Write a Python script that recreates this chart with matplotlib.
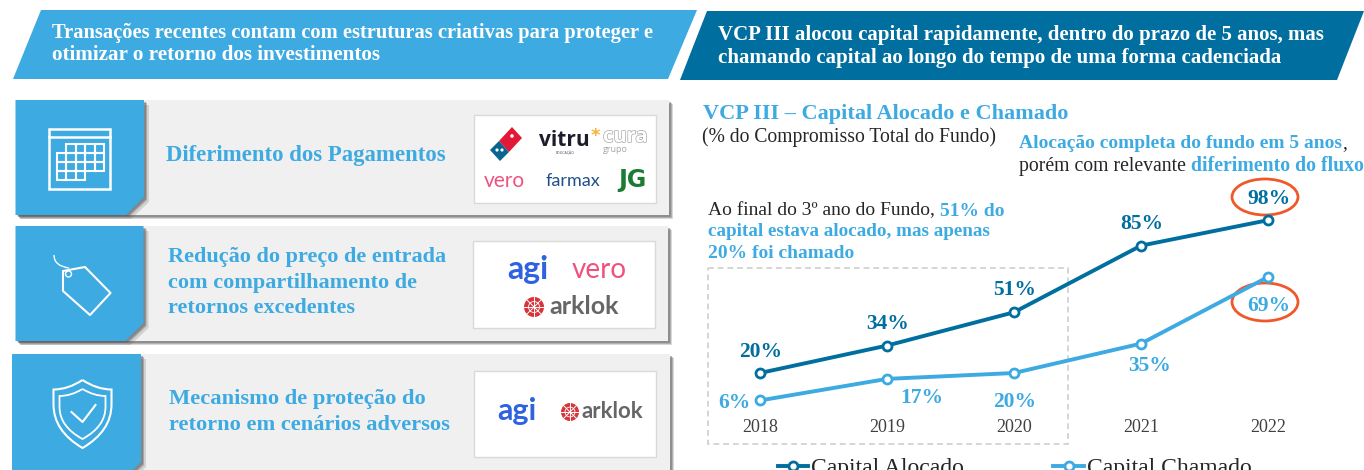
import matplotlib
matplotlib.use('Agg')
import matplotlib.pyplot as plt
import matplotlib.patheffects as pe
from matplotlib.patches import Polygon, Rectangle, Ellipse, Circle, PathPatch
from matplotlib.path import Path
import numpy as np

# %% Data
anos = ['2018', '2019', '2020', '2021', '2022']
capital_alocado = [20, 34, 51, 85, 98]
capital_chamado = [6, 17, 20, 35, 69]
nome_alocado = 'Capital Alocado'
nome_chamado = 'Capital Chamado'

# label offsets in pixels from their point
offs_alocado = [(1, 21), (1, 22), (1, 22), (1, 22), (1, 21)]
offs_chamado = [(-26, -3), (35, -19), (1, -29), (9, -22), (1, -29)]

AZUL = '#3DAAE2'
ESCURO = '#006E9E'
CINZA = '#F0F0F0'
LARANJA = '#F0582A'
PRETO = '#262626'
SERIF = 'Liberation Serif'

plt.rcParams['font.family'] = SERIF

W, H = 1364, 470
fig = plt.figure(figsize=(W / 100, H / 100), dpi=100)

# background axes in pixel coordinates for the panels
bg = fig.add_axes([0, 0, 1, 1])
bg.set_xlim(0, W)
bg.set_ylim(H, 0)
bg.axis('off')


def txt(x, y, s, size, color=PRETO, weight='normal', **kw):
    # va center sits about 2 px high against the reference
    return bg.text(x, y + 2, s, fontsize=size, color=color, fontweight=weight, va='center', **kw)


def rich(x, y, parts, size):
    # several colours on one line
    r = fig.canvas.get_renderer()
    for s, c, w in parts:
        t = txt(x, y, s, size, c, w)
        x = t.get_window_extent(r).x1


def flor(cx, cy, raio):
    bg.add_patch(Circle((cx, cy), raio, fc='#D8343B', ec='none'))
    for a in np.arange(0, np.pi, np.pi / 4):
        bg.plot([cx - raio * np.cos(a), cx + raio * np.cos(a)], [cy - raio * np.sin(a), cy + raio * np.sin(a)],
                color='white', lw=0.7)
    bg.add_patch(Circle((cx, cy), raio * 0.55, fc='none', ec='white', lw=0.6))


# %% Headers
bg.add_patch(Polygon([(41, 10), (697, 10), (668, 79), (13, 79)], fc=AZUL, ec='none'))
bg.add_patch(Polygon([(707, 11), (1364, 11), (1337, 80), (680, 80)], fc=ESCURO, ec='none'))
txt(52, 31, 'Transações recentes contam com estruturas criativas para proteger e', 14.8, 'white', 'bold')
txt(52, 53, 'otimizar o retorno dos investimentos', 15.2, 'white', 'bold')
txt(718, 33, 'VCP III alocou capital rapidamente, dentro do prazo de 5 anos, mas', 15, 'white', 'bold')
txt(718, 56, 'chamando capital ao longo do tempo de uma forma cadenciada', 15.1, 'white', 'bold')

# %% Left panels
paineis = [(15.5, 669, 100, 215, 144), (15.5, 668, 226, 341, 143.5), (12, 670, 354, 480, 141)]
for x0, x1, y0, y1, xb in paineis:
    for d, a in [(4, 0.25), (3, 0.35), (2, 0.45)]:
        bg.add_patch(Rectangle((x0 + d, y0 + d), x1 - x0, y1 - y0, fc='#666666', ec='none', alpha=a))
    bg.add_patch(Rectangle((x0, y0), x1 - x0, y1 - y0, fc=CINZA, ec='none'))
    for d, a in [(5, 0.2), (3, 0.35), (2, 0.4)]:
        bg.add_patch(Polygon([(x0 + d, y0 + d), (xb + d, y0 + d), (xb + d, y1 - 18 + d), (xb - 18 + d, y1 + d - 1),
                              (x0 + d, y1 + d - 1)], fc='#555555', ec='none', alpha=a))
    bg.add_patch(Polygon([(x0, y0), (xb, y0), (xb, y1 - 18), (xb - 18, y1), (x0, y1)], fc=AZUL, ec='none'))

for x0, y0, x1, y1 in [(474, 115, 656, 203), (473, 241, 655, 328), (474, 371, 656, 457)]:
    bg.add_patch(Rectangle((x0, y0), x1 - x0, y1 - y0, fc='white', ec='#d9d9d9', lw=1))

txt(166, 154, 'Diferimento dos Pagamentos', 16.4, AZUL, 'bold')
txt(168, 255, 'Redução do preço de entrada', 16, AZUL, 'bold')
txt(168, 281, 'com compartilhamento de', 16, AZUL, 'bold')
txt(168, 306, 'retornos excedentes', 16, AZUL, 'bold')
txt(169, 397, 'Mecanismo de proteção do', 16.2, AZUL, 'bold')
txt(169, 423, 'retorno em cenários adversos', 16.1, AZUL, 'bold')

# %% Icons
# calendar
bg.add_patch(Rectangle((49, 129), 61, 60, fc='none', ec='white', lw=1.8))
bg.plot([49, 110], [137, 137], color='white', lw=1.8)
for row, (a, b) in enumerate([(1, 5), (0, 5), (0, 5), (0, 3)]):
    for col in range(a, b):
        bg.add_patch(Rectangle((56.5 + col * 9.5, 144 + row * 9), 9.5, 9, fc='none', ec='white', lw=1.5))

# tag
bg.add_patch(Polygon([(63, 271), (85, 267), (110.5, 293), (90, 315), (63, 291)], fc='none', ec='white', lw=1.5,
                     joinstyle='round'))
bg.add_patch(Circle((68.5, 274), 3, fc='none', ec='white', lw=1))
bg.add_patch(PathPatch(Path([(54, 255), (54, 266), (69, 268)], [Path.MOVETO, Path.CURVE3, Path.CURVE3]),
                       fc='none', ec='white', lw=1))


# shield
def escudo(cx, top, w, h, lw):
    v = [(cx, top), (cx + w * 0.5, top + h * 0.14), (cx + w, top + h * 0.14), (cx + w, top + h * 0.36),
         (cx + w, top + h * 0.75), (cx, top + h), (cx - w, top + h * 0.75), (cx - w, top + h * 0.36),
         (cx - w, top + h * 0.14), (cx - w * 0.5, top + h * 0.14), (cx, top)]
    c = [Path.MOVETO, Path.CURVE3, Path.CURVE3, Path.LINETO, Path.CURVE3, Path.CURVE3, Path.CURVE3, Path.CURVE3,
         Path.LINETO, Path.CURVE3, Path.CURVE3]
    bg.add_patch(PathPatch(Path(v, c), fc='none', ec='white', lw=lw))


escudo(82.5, 380, 29, 68, 1.5)
escudo(82.5, 389, 23, 50, 1.3)
bg.plot([71.5, 82.5, 95.5], [412, 422, 405], color='white', lw=1.5)

# %% Logos
# dominos
bg.add_patch(Polygon([(512, 127), (522, 138), (509, 152), (499, 141)], fc='#E31837', ec='none'))
bg.add_patch(Polygon([(499, 141), (509, 152), (500, 161), (490, 150)], fc='#0B648F', ec='none'))
bg.add_patch(Circle((512, 136), 1.8, fc='white', ec='none'))
bg.add_patch(Circle((497, 150), 1.6, fc='white', ec='none'))
bg.add_patch(Circle((502, 150), 1.6, fc='white', ec='none'))
txt(539, 139, 'vitru', 15, '#1c1c2b', 'bold', family='Open Sans')
txt(595, 134, '*', 13, '#F5B335', 'bold', ha='center', family='DejaVu Sans')
txt(565, 151, 'EDUCAÇÃO', 2.5, '#444444', family='Open Sans', ha='center')
txt(603, 135, 'cura', 14.5, 'white', 'bold', family='Open Sans',
    path_effects=[pe.withStroke(linewidth=1, foreground='#a8a8a8')])
txt(603, 148, 'grupo', 6.5, '#a8a8a8', family='Open Sans')
txt(484, 179, 'vero', 15, '#F0527F', family='Lato')
txt(546, 179, 'farmax', 13, '#1F4E8C', family='Lato')
txt(618, 178, 'JG', 17, '#1B7A33', 'bold', family='DejaVu Sans')

txt(507, 268, 'agi', 23, '#2F62E0', 'bold', family='Lato')
bg.add_patch(Circle((544, 259), 1.8, fc='#3DBE6B', ec='none'))
txt(572, 268, 'vero', 20, '#F0527F', family='Lato')
flor(534, 307, 10)
txt(549, 305, 'arklok', 18, '#666666', 'bold', family='Lato')
txt(497, 409, 'agi', 22, '#2F62E0', 'bold', family='Lato')
bg.add_patch(Circle((533, 400), 1.7, fc='#3DBE6B', ec='none'))
flor(570, 412, 9)
txt(582, 410, 'arklok', 16, '#666666', 'bold', family='Lato')

# %% Chart texts
txt(703, 112, 'VCP III – Capital Alocado e Chamado', 16, AZUL, 'bold')
txt(702, 135, '(% do Compromisso Total do Fundo)', 14.1)
rich(1019, 142, [('Alocação completa do fundo em 5 anos', AZUL, 'bold'), (',', PRETO, 'normal')], 14)
rich(1019, 164, [('porém com relevante ', PRETO, 'normal'), ('diferimento do fluxo', AZUL, 'bold')], 14.2)
rich(708, 209, [('Ao final do 3º ano do Fundo, ', PRETO, 'normal'), ('51% do', AZUL, 'bold')], 14)
txt(708, 230, 'capital estava alocado, mas apenas', 13.8, AZUL, 'bold')
txt(708, 252, '20% foi chamado', 14, AZUL, 'bold')

bg.add_patch(Rectangle((708, 268), 360, 176, fc='none', ec='#d5d5d5', lw=1.4, ls=(0, (3, 2))))
bg.add_patch(Ellipse((1265, 197), 66, 36, fc='none', ec=LARANJA, lw=2))
bg.add_patch(Ellipse((1265, 302), 66, 38, fc='none', ec=LARANJA, lw=2))

# %% Line chart
ax = fig.add_axes([696 / W, 1 - 412.2 / H, (1332 - 696) / W, (412.2 - 180) / H])
ax.patch.set_alpha(0)
x = list(range(len(anos)))
ax.plot(x, capital_alocado, color=ESCURO, lw=2.8, marker='o', ms=6.5, mfc='white', mec=ESCURO, mew=2,
        label=nome_alocado)
ax.plot(x, capital_chamado, color=AZUL, lw=2.8, marker='o', ms=6.5, mfc='white', mec=AZUL, mew=2,
        label=nome_chamado)
ax.set_xlim(-0.504, 4.504)
ax.set_ylim(0, 118.5)
ax.set_xticks(x)
ax.set_xticklabels(anos, fontsize=13, color='#404040')
ax.tick_params(axis='x', length=0, pad=5)
ax.set_yticks([])
for s in ax.spines.values():
    s.set_visible(False)

for i, v in enumerate(capital_alocado):
    ax.annotate(f'{v}%', (i, v), xytext=offs_alocado[i], textcoords='offset pixels', ha='center', va='center',
                fontsize=15.5, color=ESCURO, fontweight='bold')
for i, v in enumerate(capital_chamado):
    ax.annotate(f'{v}%', (i, v), xytext=offs_chamado[i], textcoords='offset pixels', ha='center', va='center',
                fontsize=15.5, color=AZUL, fontweight='bold')

ax.legend(loc='center left', bbox_to_anchor=(766 / W, 1 - 468 / H), bbox_transform=fig.transFigure, ncol=2,
          frameon=False, fontsize=17, handlelength=1.3, handletextpad=0.1, columnspacing=3.8, borderpad=0,
          labelcolor=PRETO)

fig.savefig('out.png', dpi=100)
